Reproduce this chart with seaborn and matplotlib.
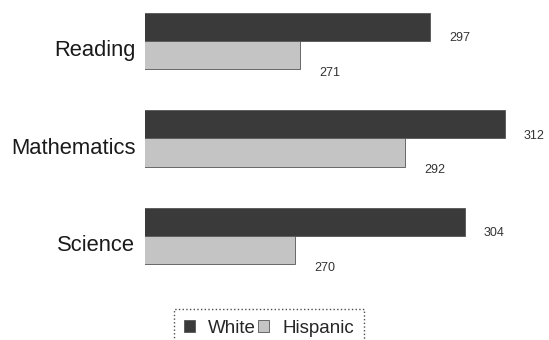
import pandas as pd
import seaborn as sns
import matplotlib.pyplot as plt
from matplotlib.transforms import offset_copy, blended_transform_factory
from matplotlib.patches import Patch

subjects = ["Reading", "Mathematics", "Science"]
white_scores = [297, 312, 304]
hispanic_scores = [271, 292, 270]
groups = ["White", "Hispanic"]
colors = ["#3a3a3a", "#c4c4c4"]

df = pd.DataFrame({
    "subject": subjects * 2,
    "score": white_scores + hispanic_scores,
    "group": ["White"] * 3 + ["Hispanic"] * 3,
})

sns.set_style("white")
plt.rcParams["font.family"] = ["Liberation Sans", "DejaVu Sans"]

fig = plt.figure(figsize=(5.49, 3.40), dpi=100)
ax = fig.add_axes([145 / 549, 50 / 340, 404 / 549, 290 / 340])

sns.barplot(data=df, y="subject", x="score", hue="group", orient="h",
            palette=colors, hue_order=groups, width=0.58, ax=ax,
            edgecolor="#555555", linewidth=0.6, legend=False)

ax.set_xlim(240, 320.8)
ax.set_ylim(2.554, -0.42)
sns.despine(ax=ax, left=True, bottom=True)
ax.set_xticks([])
ax.set_yticks([])
ax.set_xlabel("")
ax.set_ylabel("")

# category labels, sitting a little below the group centre
trans = offset_copy(blended_transform_factory(ax.transAxes, ax.transData),
                    fig=fig, x=-7, y=-7, units="points")
for i, s in enumerate(subjects):
    ax.text(0, i, s, transform=trans, ha="right", va="center",
            fontsize=15.8, color="#1a1a1a")

# value labels off the end of each bar
for j, cont in enumerate(ax.containers):
    for p in cont:
        w = p.get_width()
        y0 = p.get_y()
        h = p.get_height()
        if j == 0:
            ly = y0 + h * 0.9
        else:
            ly = y0 + h * 1.12
        ax.text(w + 3.8, ly, f"{w:.0f}", ha="left", va="center",
                fontsize=9, color="#333333")

handles = [Patch(facecolor=c, edgecolor="#555555", linewidth=0.6) for c in colors]
leg = fig.legend(handles, groups, loc="upper center", ncol=2,
                 bbox_to_anchor=(269 / 549, 1 - 300 / 340),
                 fontsize=13.5, handlelength=0.6, handleheight=0.6,
                 handletextpad=0.7, columnspacing=0.1, borderpad=0.55,
                 fancybox=False, frameon=True)
leg.get_frame().set_edgecolor("#222222")
leg.get_frame().set_linestyle(":")
leg.get_frame().set_linewidth(1.0)

fig.savefig("out.png", dpi=100)
